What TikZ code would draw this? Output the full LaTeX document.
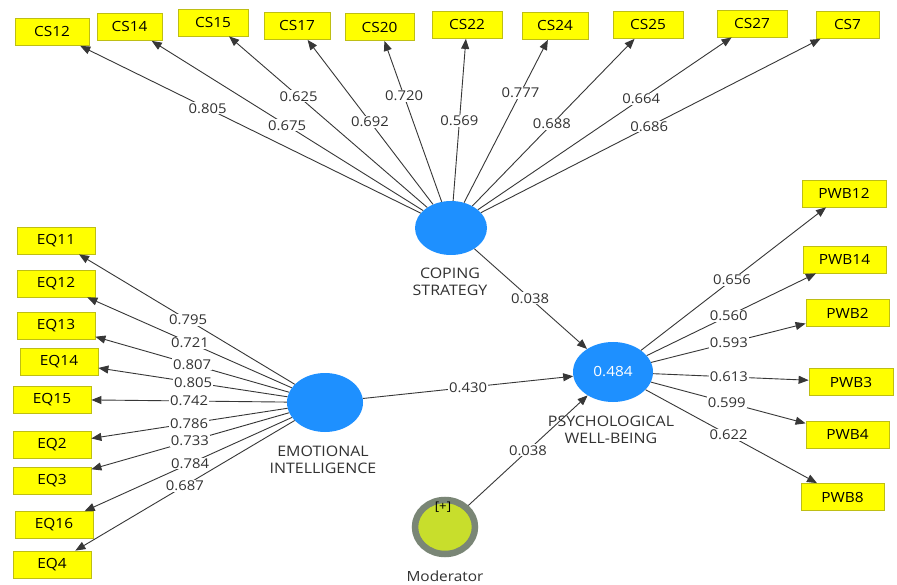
\documentclass[tikz,border=0pt]{standalone}
\usepackage{fontspec}
\setmainfont[FakeStretch=1.1]{Open Sans}
\usetikzlibrary{arrows.meta,shapes.geometric}
\definecolor{boxyellow}{RGB}{255,255,0}
\definecolor{boxedge}{RGB}{190,190,20}
\definecolor{lvblue}{RGB}{30,144,255}
\definecolor{linegray}{RGB}{55,55,55}
\definecolor{modfill}{RGB}{200,222,44}
\definecolor{modedge}{RGB}{122,134,118}
\definecolor{txtgray}{RGB}{50,50,50}
\tikzset{
  ind/.style={draw=boxedge, fill=boxyellow, line width=0.8pt, minimum height=27pt, inner sep=0pt, font=\fontsize{14}{16}\selectfont, text=black},
  lv/.style={ellipse, fill=lvblue, inner sep=0pt},
  conn/.style={draw=linegray, line width=0.9pt, -{Triangle[length=10pt,width=8pt]}},
  lbl/.style={fill=white, inner sep=1pt, text=txtgray, font=\fontsize{13.5}{15}\selectfont},
  lvname/.style={text=txtgray, align=center, font=\fontsize{14.5}{17}\selectfont},
}
\begin{document}
\begin{tikzpicture}[x=1pt,y=-1pt]
\useasboundingbox (0,0) rectangle (897,585);
\fill[white] (0,0) rectangle (897,585);
% latent variables
\node[lv, minimum width=72pt, minimum height=54pt] (cs) at (451,228) {};
\node[lv, minimum width=76pt, minimum height=59pt] (ei) at (325,402.5) {};
\node[lv, minimum width=80pt, minimum height=60pt, text=white, font=\fontsize{14}{16}\selectfont] (pwb) at (613,372) {0.484};
\node[ellipse, draw=modedge, line width=6.5pt, fill=modfill, minimum width=60pt, minimum height=54pt, inner sep=0pt] (mod) at (445,527) {};
\node[text=black, font=\fontsize{12}{14}\selectfont] (plus) at (443,507) {[+]};
% names
\node[lvname] (csname) at (450,282) {COPING\\STRATEGY};
\node[lvname] (einame) at (323,459.5) {EMOTIONAL\\INTELLIGENCE};
\node[lvname] (pwbname) at (611,430) {PSYCHOLOGICAL\\WELL-BEING};
\node[lvname, font=\fontsize{14}{16}\selectfont] (modname) at (445,576) {Moderator};
% CS indicators
\node[ind, minimum width=74pt] (cs12) at (52,32) {CS12};
\node[ind, minimum width=65pt] (cs14) at (129.5,27) {CS14};
\node[ind, minimum width=70pt] (cs15) at (213,22.5) {CS15};
\node[ind, minimum width=66pt] (cs17) at (297,26) {CS17};
\node[ind, minimum width=69pt] (cs20) at (379.5,27) {CS20};
\node[ind, minimum width=70pt] (cs22) at (467,25) {CS22};
\node[ind, minimum width=66pt] (cs24) at (555,26) {CS24};
\node[ind, minimum width=70pt] (cs25) at (648,25) {CS25};
\node[ind, minimum width=70pt] (cs27) at (752,23.5) {CS27};
\node[ind, minimum width=63pt] (cs7) at (847.5,25) {CS7};
% EQ indicators
\node[ind, minimum width=78pt] (eq11) at (56,240.5) {EQ11};
\node[ind, minimum width=78pt] (eq12) at (56,283.5) {EQ12};
\node[ind, minimum width=78pt] (eq13) at (56,325.5) {EQ13};
\node[ind, minimum width=78pt] (eq14) at (59,362) {EQ14};
\node[ind, minimum width=78pt] (eq15) at (52,399.5) {EQ15};
\node[ind, minimum width=78pt] (eq2) at (52,444.5) {EQ2};
\node[ind, minimum width=78pt] (eq3) at (52,480.5) {EQ3};
\node[ind, minimum width=78pt] (eq16) at (54,525) {EQ16};
\node[ind, minimum width=78pt] (eq4) at (52,564.5) {EQ4};
% PWB indicators
\node[ind, minimum width=84pt] (pwb12) at (844,193.5) {PWB12};
\node[ind, minimum width=83pt] (pwb14) at (844.5,259.5) {PWB14};
\node[ind, minimum width=83pt] (pwb2) at (847.5,313) {PWB2};
\node[ind, minimum width=84pt] (pwb3) at (851,382) {PWB3};
\node[ind, minimum width=83pt] (pwb4) at (847.5,434.5) {PWB4};
\node[ind, minimum width=83pt] (pwb8) at (842.5,497) {PWB8};
% connectors
\foreach \n in {cs12,cs14,cs15,cs17,cs20,cs22,cs24,cs25,cs27,cs7}
  \draw[conn] (cs) -- (\n);
\foreach \n in {eq11,eq12,eq13,eq14,eq15,eq2,eq3,eq16,eq4}
  \draw[conn] (ei) -- (\n);
\foreach \n in {pwb12,pwb14,pwb2,pwb3,pwb4,pwb8}
  \draw[conn] (pwb) -- (\n);
\draw[conn] (cs) -- (pwb);
\draw[conn] (ei) -- (pwb);
\draw[conn] (mod) -- (pwb);
% labels
\foreach \n/\p/\v in {cs12/0.61/0.805, cs14/0.51/0.675, cs15/0.64/0.625, cs17/0.526/0.692, cs20/0.657/0.720, cs22/0.527/0.569, cs24/0.668/0.777, cs25/0.512/0.688, cs27/0.632/0.664, cs7/0.50/0.686}
  \path (cs.center) -- (\n.center) node[lbl, pos=\p] {\v};
\foreach \n/\p/\v in {eq11/0.509/0.795, eq12/0.502/0.721, eq13/0.494/0.807, eq14/0.496/0.805, eq15/0.498/0.742, eq2/0.498/0.786, eq3/0.495/0.733, eq16/0.498/0.784, eq4/0.513/0.687}
  \path (ei.center) -- (\n.center) node[lbl, pos=\p] {\v};
\foreach \n/\p/\v in {pwb12/0.515/0.656, pwb14/0.50/0.560, pwb2/0.494/0.593, pwb3/0.487/0.613, pwb4/0.485/0.599, pwb8/0.504/0.622}
  \path (pwb.center) -- (\n.center) node[lbl, pos=\p] {\v};
\path (cs.center) -- (pwb.center) node[lbl, pos=0.488] {0.038};
\path (ei.center) -- (pwb.center) node[lbl, pos=0.497] {0.430};
\path (mod.center) -- (pwb.center) node[lbl, pos=0.494] {0.038};
\end{tikzpicture}
\end{document}
